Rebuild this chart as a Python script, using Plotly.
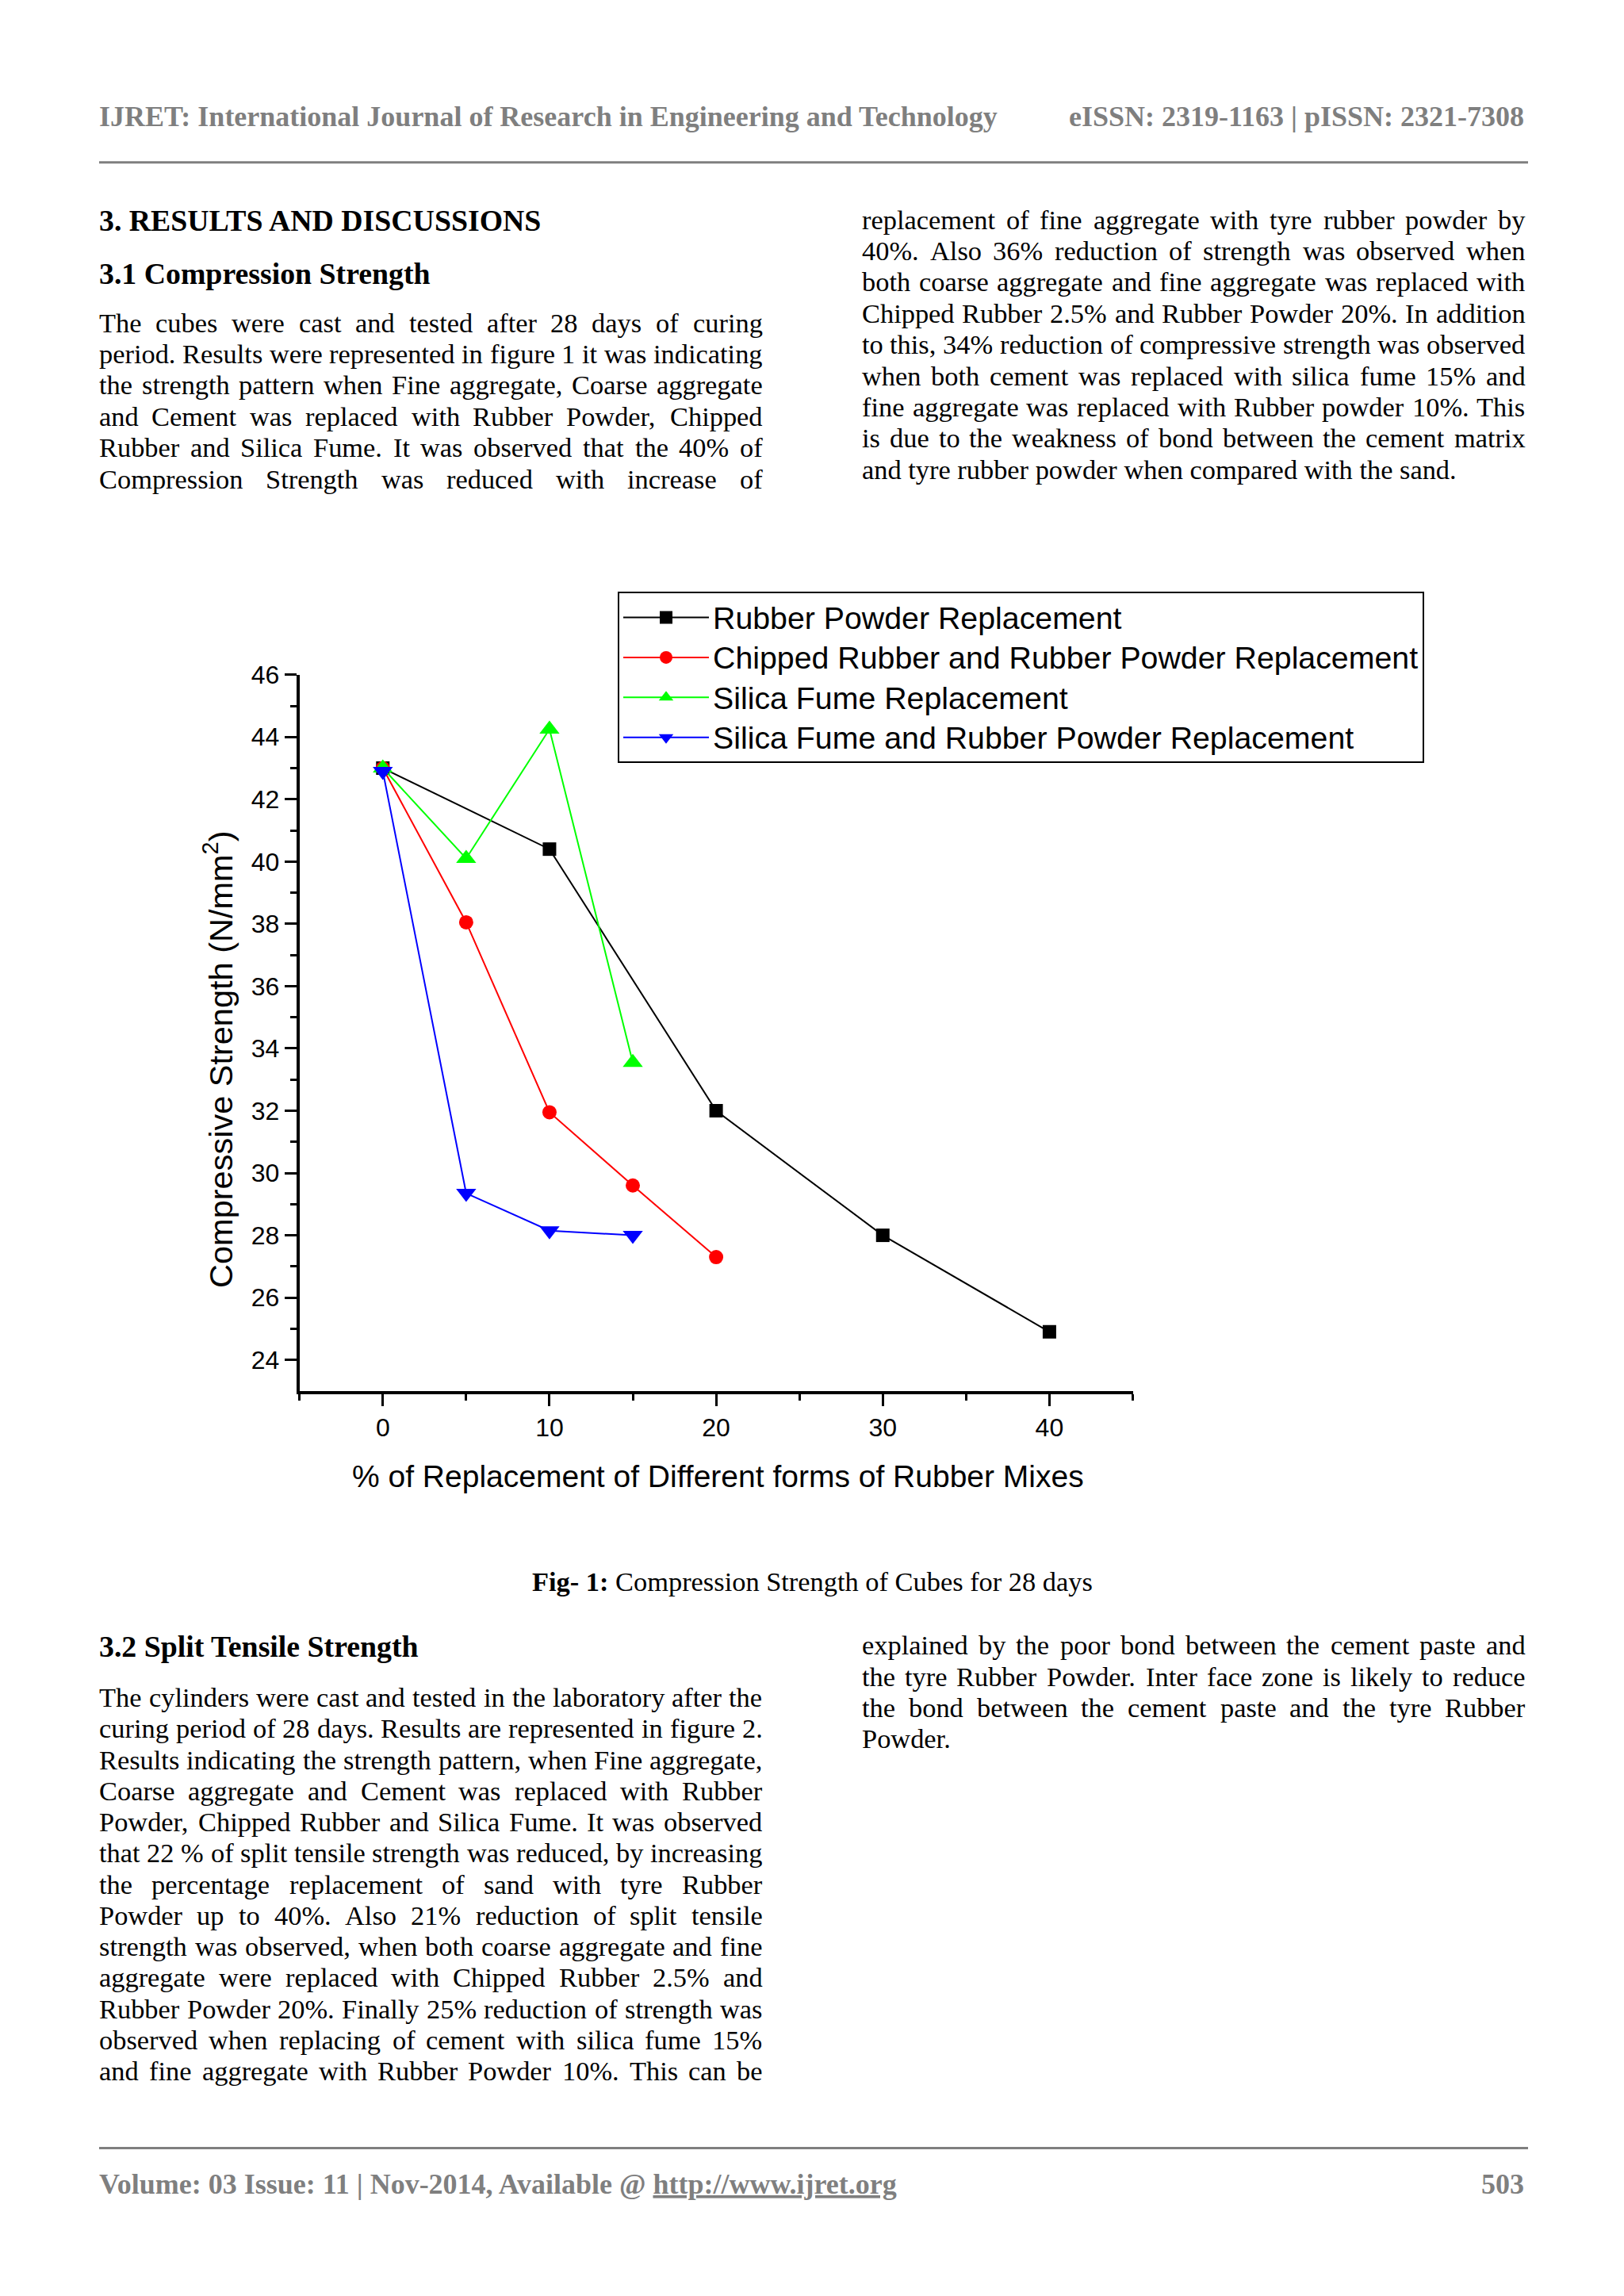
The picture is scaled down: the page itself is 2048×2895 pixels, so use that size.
import plotly.graph_objects as go

W, H = 2048, 2895

# ---------------- chart data ----------------
series_names = [
    "Rubber Powder Replacement",
    "Chipped Rubber and Rubber Powder Replacement",
    "Silica Fume Replacement",
    "Silica Fume and Rubber Powder Replacement",
]
x_rubber_powder = [0, 10, 20, 30, 40]
y_rubber_powder = [43.0, 40.4, 32.0, 28.0, 24.9]
x_chipped = [0, 5, 10, 15, 20]
y_chipped = [43.0, 38.05, 31.95, 29.6, 27.3]
x_silica = [0, 5, 10, 15]
y_silica = [43.0, 40.1, 44.25, 33.55]
x_silica_rp = [0, 5, 10, 15]
y_silica_rp = [42.9, 29.35, 28.15, 28.0]

x_tick_vals = [0, 10, 20, 30, 40]
x_minor_ticks = [-5, 5, 15, 25, 35, 45]
y_tick_vals = [24, 26, 28, 30, 32, 34, 36, 38, 40, 42, 44, 46]
y_minor_ticks = [25, 27, 29, 31, 33, 35, 37, 39, 41, 43, 45]

x_title = "% of Replacement of Different forms of Rubber Mixes"
y_title = "Compressive Strength (N/mm<sup>2</sup>)"

# ---------------- page text ----------------
header_left = "IJRET: International Journal of Research in Engineering and Technology"
header_right = "eISSN: 2319-1163 | pISSN: 2321-7308"
heading_1 = "3. RESULTS AND DISCUSSIONS"
heading_11 = "3.1 Compression Strength"
para1_left = [
    "The cubes were cast and tested after 28 days of curing",
    "period. Results were represented in figure 1 it was indicating",
    "the strength pattern when Fine aggregate, Coarse aggregate",
    "and Cement was replaced with Rubber Powder, Chipped",
    "Rubber and Silica Fume. It was observed that the 40% of",
    "Compression Strength was reduced with increase of",
]
para1_right = [
    "replacement of fine aggregate with tyre rubber powder by",
    "40%. Also 36% reduction of strength was observed when",
    "both coarse aggregate and fine aggregate was replaced with",
    "Chipped Rubber 2.5% and Rubber Powder 20%. In addition",
    "to this, 34% reduction of compressive strength was observed",
    "when both cement was replaced with silica fume 15% and",
    "fine aggregate was replaced with Rubber powder 10%.  This",
    "is due to the weakness of bond between the cement matrix",
    "and tyre rubber powder when compared with the sand.",
]
caption_bold = "Fig- 1:"
caption_text = "Compression Strength of Cubes for 28 days"
heading_32 = "3.2 Split Tensile Strength"
para2_left = [
    "The cylinders were cast and tested in the laboratory after the",
    "curing period of 28 days. Results are represented in figure 2.",
    "Results indicating the strength pattern, when Fine aggregate,",
    "Coarse aggregate and Cement was replaced with Rubber",
    "Powder, Chipped Rubber and Silica Fume. It was observed",
    "that 22 % of split tensile strength was reduced, by increasing",
    "the percentage replacement of sand with tyre Rubber",
    "Powder up to 40%. Also 21% reduction of split tensile",
    "strength was observed, when both coarse aggregate and fine",
    "aggregate were replaced with Chipped Rubber 2.5% and",
    "Rubber Powder 20%. Finally 25% reduction of strength was",
    "observed when replacing of cement with silica fume 15%",
    "and fine aggregate with Rubber Powder 10%. This can be",
]
para2_right = [
    "explained by the poor bond between the cement paste and",
    "the tyre Rubber Powder. Inter face zone is likely to reduce",
    "the bond between the cement paste and the tyre Rubber",
    "Powder.",
]
footer_text = "Volume: 03 Issue: 11 | Nov-2014, Available @ "
footer_link = "http://www.ijret.org"
footer_page = "503"

SERIF = "Liberation Serif, Times New Roman, serif"
SANS = "Liberation Sans, Arial, sans-serif"
GREY = "#7f7f7f"

# Times-Roman advance widths (1/1000 em) for justification
TIMES = {' ': 250, '%': 833, '(': 333, ')': 333, ',': 250, '-': 333, '.': 250, '/': 278,
         ':': 278, ';': 278, '|': 200,
         'A': 722, 'B': 667, 'C': 667, 'D': 722, 'E': 611, 'F': 556, 'G': 722, 'H': 722,
         'I': 333, 'J': 389, 'K': 722, 'L': 611, 'M': 889, 'N': 722, 'O': 722, 'P': 556,
         'Q': 722, 'R': 667, 'S': 556, 'T': 611, 'U': 722, 'V': 722, 'W': 944, 'X': 722,
         'Y': 722, 'Z': 611, 'a': 444, 'b': 500, 'c': 444, 'd': 500, 'e': 444, 'f': 333,
         'g': 500, 'h': 500, 'i': 278, 'j': 278, 'k': 500, 'l': 278, 'm': 778, 'n': 500,
         'o': 500, 'p': 500, 'q': 500, 'r': 333, 's': 389, 't': 278, 'u': 500, 'v': 500,
         'w': 722, 'x': 500, 'y': 500, 'z': 444}
for d in "0123456789":
    TIMES[d] = 500


def tw(s, size):
    return sum(TIMES.get(c, 500) for c in s) * size / 1000.0


# page-pixel -> paper conversion (with a small calibration of the page offset)
OFF_X = 7.0
OFF_Y, SC_Y = 24.9, 0.9936


def px(x):
    return (x - OFF_X) / W


def py(y):
    return 1 - ((y - OFF_Y) / SC_Y) / H


annotations = []


def ann(text, x, y, size, family=SERIF, color="black", xanchor="left", angle=0):
    annotations.append(dict(
        text=text, x=px(x), y=py(y), xref="paper", yref="paper",
        xanchor=xanchor, yanchor="middle", showarrow=False, textangle=angle,
        borderpad=0, borderwidth=0,
        font=dict(family=family, size=size, color=color)))


BODY = 34.4


def text_line(line, y, x0, x1, justify):
    words = line.split()
    if not justify or len(words) < 2:
        ann(line, x0, y, BODY)
        return
    widths = [tw(w, BODY) for w in words]
    gap = (x1 - x0 - sum(widths)) / (len(words) - 1)
    x = x0
    for w, wd in zip(words, widths):
        ann(w, x, y, BODY)
        x += wd + gap


def paragraph(lines, y0, step, x0, x1, last_justified):
    for i, line in enumerate(lines):
        just = (i < len(lines) - 1) or last_justified
        text_line(line, y0 + i * step, x0, x1, just)


LX0, LX1 = 124.0, 960.5
RX0, RX1 = 1086.0, 1922.5

# header / footer
ann("<b>" + header_left + "</b>", LX0, 146, 36, color=GREY)
ann("<b>" + header_right + "</b>", 1921, 146, 36, color=GREY, xanchor="right")
ann("<b>" + footer_text + "<u>" + footer_link + "</u></b>", LX0, 2752, 36, color=GREY)
ann("<b>" + footer_page + "</b>", 1921, 2752, 36, color=GREY, xanchor="right")

# headings
ann("<b>" + heading_1 + "</b>", LX0, 277, 37.8)
ann("<b>" + heading_11 + "</b>", LX0, 343.5, 37.8)
ann("<b>" + heading_32 + "</b>", LX0, 2075, 37.8)

paragraph(para1_left, 405.5, 39.4, LX0, LX1, True)
paragraph(para1_right, 275.5, 39.4, RX0, RX1, False)
paragraph(para2_left, 2138.5, 39.25, LX0, LX1, True)
paragraph(para2_right, 2073, 39.25, RX0, RX1, False)

ann("<b>" + caption_bold + "</b> " + caption_text, 1023, 1993, BODY, xanchor="center")

# axis titles
ann(x_title, 904, 1860, 39, family=SANS, xanchor="center")
ann(y_title, 274.6, 1334, 41.5, family=SANS, xanchor="center", angle=-90)

# ---------------- figure ----------------
fig = go.Figure()
styles = [
    (x_rubber_powder, y_rubber_powder, "black", "square", 17),
    (x_chipped, y_chipped, "#ff0000", "circle", 18),
    (x_silica, y_silica, "#00ff00", "triangle-up", 22),
    (x_silica_rp, y_silica_rp, "#0000ff", "triangle-down", 22),
]
for name, (xs, ys, col, sym, ms) in zip(series_names, styles):
    fig.add_trace(go.Scatter(
        x=xs, y=ys, mode="lines+markers",
        name='<span style="font-size:39.3px">' + name + "</span>",
        line=dict(color=col, width=2),
        marker=dict(symbol=sym, size=ms, color=col, line=dict(width=0)),
    ))

# plot area in page pixels
PX0, PX1 = 376.7, 1427.5
PY_TOP, PY_BOT = 849.5, 1752.5

axis_common = dict(
    showline=True, linewidth=4, linecolor="black", mirror=False,
    showgrid=False, zeroline=False, ticks="outside", ticklen=15, tickwidth=3,
    tickcolor="black", tickfont=dict(family=SANS, size=32, color="black"),
)
fig.update_layout(
    width=W, height=H,
    margin=dict(l=0, r=0, t=0, b=0),
    paper_bgcolor="white", plot_bgcolor="white",
    xaxis=dict(domain=[px(PX0), px(PX1)], range=[-5, 45], tickmode="array",
               tickvals=x_tick_vals,
               minor=dict(tickvals=x_minor_ticks, ticks="outside", ticklen=8,
                          tickwidth=3, tickcolor="black", showgrid=False),
               **axis_common),
    yaxis=dict(domain=[py(PY_BOT), py(PY_TOP)], range=[23, 46], tickmode="array",
               tickvals=y_tick_vals,
               minor=dict(tickvals=y_minor_ticks, ticks="outside", ticklen=8,
                          tickwidth=3, tickcolor="black", showgrid=False),
               **axis_common),
    showlegend=True,
    legend=dict(x=px(778), y=py(745), xanchor="left", yanchor="top",
                bordercolor="black", borderwidth=2, bgcolor="white",
                font=dict(family=SANS, size=36.5, color="black"),
                itemwidth=108, tracegroupgap=0),
    annotations=annotations,
    shapes=[
        dict(type="line", xref="paper", yref="paper", x0=px(124), x1=px(1926),
             y0=py(203.5), y1=py(203.5), line=dict(color=GREY, width=3)),
        dict(type="line", xref="paper", yref="paper", x0=px(124), x1=px(1926),
             y0=py(2707), y1=py(2707), line=dict(color=GREY, width=3)),
    ],
)

fig.write_html("out.html")
